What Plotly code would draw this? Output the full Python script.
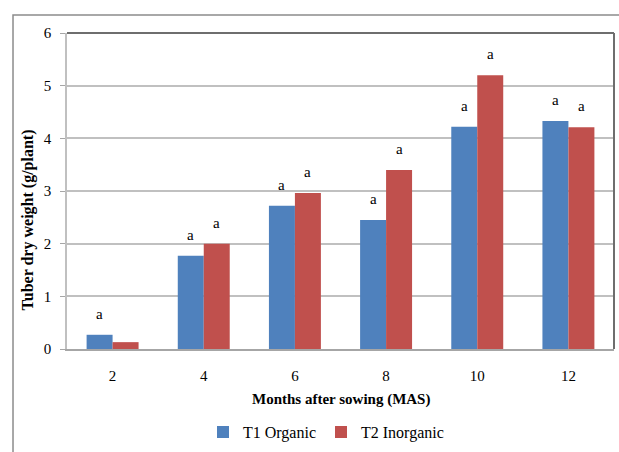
import plotly.graph_objects as go

months = ["2", "4", "6", "8", "10", "12"]
t1_organic = [0.27, 1.77, 2.72, 2.45, 4.22, 4.33]
t2_inorganic = [0.13, 2.00, 2.96, 3.40, 5.20, 4.21]
t1_letters = ["a", "a", "a", "a", "a", "a"]
t2_letters = ["", "a", "a", "a", "a", "a"]
y_ticks = [0, 1, 2, 3, 4, 5, 6]

BLUE = "#4F81BD"
RED = "#C0504D"
FONT = "Liberation Serif"

fig = go.Figure()
fig.add_trace(go.Bar(x=months, y=t1_organic, name="T1 Organic",
                     marker=dict(color=BLUE, line=dict(width=0))))
fig.add_trace(go.Bar(x=months, y=t2_inorganic, name="T2 Inorganic",
                     marker=dict(color=RED, line=dict(width=0))))

annotations = []
for i, (v, t) in enumerate(zip(t1_organic, t1_letters)):
    if t:
        annotations.append(dict(x=i, y=v, xref="x", yref="y", text=t, showarrow=False,
                                xshift=-13, yshift=21, yanchor="middle",
                                font=dict(family=FONT, size=15, color="#000")))
for i, (v, t) in enumerate(zip(t2_inorganic, t2_letters)):
    if t:
        annotations.append(dict(x=i, y=v, xref="x", yref="y", text=t, showarrow=False,
                                xshift=13, yshift=21, yanchor="middle",
                                font=dict(family=FONT, size=15, color="#000")))

# axis titles
annotations.append(dict(x=0.5, y=-0.161, xref="paper", yref="paper",
                        text="<b>Months after sowing (MAS)</b>", showarrow=False,
                        xanchor="center", yanchor="middle",
                        font=dict(family=FONT, size=15, color="#000")))
annotations.append(dict(x=-0.0713, y=0.41, xref="paper", yref="paper",
                        text="<b>Tuber dry weight (g/plant)</b>", showarrow=False,
                        textangle=-90, xanchor="center", yanchor="middle",
                        font=dict(family=FONT, size=16, color="#000")))

shapes = [
    # outer chart frame
    dict(type="rect", xref="paper", yref="paper", x0=-0.0987, x1=1.05, y0=-0.45, y1=1.057,
         line=dict(color="#8c8c8c", width=1.5), layer="below"),
    # plot area top and right border
    dict(type="line", xref="paper", yref="paper", x0=0, x1=1, y0=1, y1=1,
         line=dict(color="#6e6e6e", width=2)),
    dict(type="line", xref="paper", yref="paper", x0=1, x1=1, y0=0, y1=1,
         line=dict(color="#6e6e6e", width=2)),
]

fig.update_layout(
    width=619, height=452,
    margin=dict(l=67, r=5, t=33, b=103, autoexpand=False),
    paper_bgcolor="white", plot_bgcolor="white",
    barmode="group", bargap=0.43, bargroupgap=0,
    font=dict(family=FONT, size=15, color="#000"),
    showlegend=True,
    legend=dict(orientation="h", x=0.4735, xanchor="center", y=-0.263, yanchor="middle",
                font=dict(family=FONT, size=16, color="#000"),
                itemwidth=30, traceorder="normal", bgcolor="rgba(0,0,0,0)"),
    annotations=annotations,
    shapes=shapes,
    xaxis=dict(type="category", range=[-0.5, len(months) - 0.5], autorange=False,
               automargin=False,
               showgrid=False, showline=True, linecolor="#a6a6a6",
               linewidth=1.5, ticks="", ticklabelstandoff=12,
               tickfont=dict(family=FONT, size=15, color="#000")),
    yaxis=dict(range=[0, 6], tickvals=y_ticks, showgrid=True, gridcolor="#c0c0c0",
               automargin=False,
               gridwidth=1.5, showline=True, linecolor="#c0c0c0", linewidth=1.5,
               ticks="outside", ticklen=5, tickcolor="#a6a6a6", tickwidth=1,
               ticklabelstandoff=6, zeroline=False,
               tickfont=dict(family=FONT, size=15, color="#000")),
)

fig.write_html("out.html",
               config={"displayModeBar": False},
               post_script="document.body.style.margin='0';document.body.style.overflow='hidden';")
